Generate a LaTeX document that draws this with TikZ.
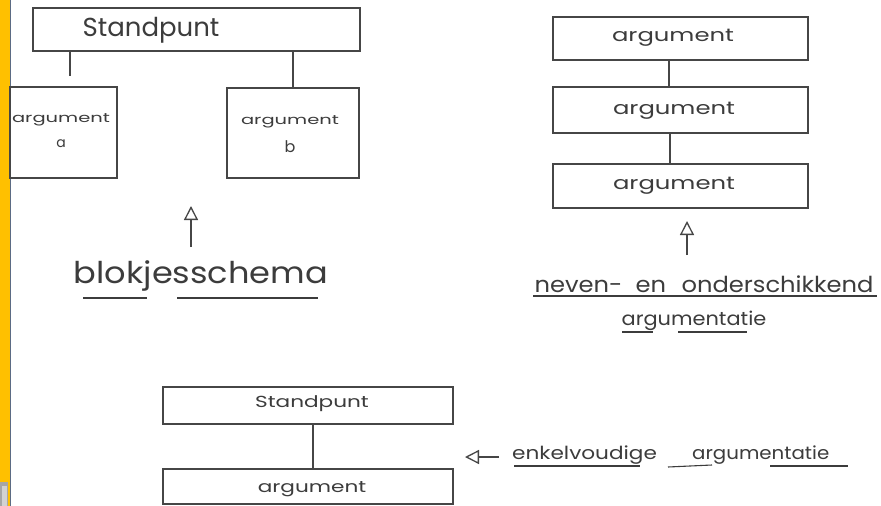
\documentclass[tikz,border=0pt]{standalone}
\usepackage{fontspec}
\setmainfont{Poppins}
\usepackage{graphicx}
\usetikzlibrary{arrows.meta}
\definecolor{pen}{HTML}{464646}
\definecolor{ink}{HTML}{3C3C3C}
\definecolor{strip}{HTML}{FFC000}
\definecolor{edge}{HTML}{5B6B84}
\newcommand\hw[3]{\scalebox{#2}[1]{\fontsize{#1}{#1}\selectfont #3}}
\tikzset{
  sketchbox/.style={draw=pen, line width=1.4pt, rectangle, inner sep=0pt},
  penline/.style={draw=pen, line width=1.3pt},
  inkline/.style={draw=ink, line width=1.1pt},
  hand/.style={text=ink, inner sep=0pt, align=center},
  uparrow/.style={draw=pen, line width=1.3pt, -{Triangle[open, length=14pt, width=14pt, line width=1.3pt]}},
}
\begin{document}
\begin{tikzpicture}[x=1pt, y=-1pt]
\useasboundingbox (0,0) rectangle (881,506);
\fill[white] (0,0) rectangle (881,506);
% left strip
\fill[strip] (0,0) rectangle (9.5,506);
\draw[edge, line width=1.2pt] (10.2,0) -- (10.2,506);
\fill[gray!70] (0,482) rectangle (8,506);
\fill[gray!35] (1.5,486) rectangle (6.5,506);

% ---------- blokjesschema ----------
\node[sketchbox, minimum width=327pt, minimum height=43pt] (sp) at (196.5,29.5) {};
\node[hand] (sptext) at (151,30) {\hw{26}{1.0}{Standpunt}};
\node[sketchbox, minimum width=107pt, minimum height=91pt] (a) at (63.5,132.5) {};
\node[hand] (atext) at (61,131) {\hw{13}{1.5}{argument}\\[13pt]\hw{14}{1}{a}};
\node[sketchbox, minimum width=132pt, minimum height=90pt] (b) at (293,133) {};
\node[hand] (btext) at (290,134) {\hw{13}{1.5}{argument}\\[11pt]\hw{16}{1}{b}};
\coordinate (tickA) at (70,76);
\coordinate (connB) at (293,0);
\draw[penline] (sp.south -| tickA) -- (tickA);
\draw[penline] (sp.south -| connB) -- (b.north -| connB);
\coordinate (arrA0) at (191,247);
\coordinate (arrA1) at (191,206);
\draw[uparrow] (arrA0) -- (arrA1);
\node[hand] (blok) at (201,276) {\hw{30}{1.12}{blokjesschema}};
\draw[inkline] (83,298) -- (147,298);
\draw[inkline] (177,298) -- (318,298);

% ---------- neven- en onderschikkend ----------
\node[sketchbox, minimum width=255pt, minimum height=43pt] (r1) at (680.5,38.5) {};
\node[sketchbox, minimum width=255pt, minimum height=46pt] (r2) at (680.5,110) {};
\node[sketchbox, minimum width=255pt, minimum height=44pt] (r3) at (680.5,186) {};
\node[hand] (r1text) at (673,38) {\hw{18}{1.35}{argument}};
\node[hand] (r2text) at (674,111) {\hw{18}{1.35}{argument}};
\node[hand] (r3text) at (674,186) {\hw{18}{1.35}{argument}};
\coordinate (c12) at (669,0);
\coordinate (c23) at (670,0);
\draw[penline] (r1.south -| c12) -- (r2.north -| c12);
\draw[penline] (r2.south -| c23) -- (r3.north -| c23);
\coordinate (arrR0) at (687,255);
\coordinate (arrR1) at (687,221);
\draw[uparrow] (arrR0) -- (arrR1);
\node[hand] (neven) at (704,284) {\hw{22}{1.1}{neven-\hspace{12pt}en\hspace{14pt}onderschikkend}};
\draw[inkline] (533,296) -- (877,296);
\node[hand] (argtie) at (694,321) {\hw{19}{1.1}{argumentatie}};
\draw[inkline] (622,332) -- (653,332);
\draw[inkline] (678,332) -- (747,332);

% ---------- enkelvoudige argumentatie ----------
\node[sketchbox, minimum width=290pt, minimum height=37pt] (s2) at (308,405.5) {};
\node[hand] (s2text) at (312,404) {\hw{16}{1.35}{Standpunt}};
\node[sketchbox, minimum width=290pt, minimum height=35pt] (g2) at (308,486.5) {};
\node[hand] (g2text) at (312,489) {\hw{16}{1.35}{argument}};
\coordinate (c2) at (313,0);
\draw[penline] (s2.south -| c2) -- (g2.north -| c2);
\coordinate (arrB0) at (499,457);
\coordinate (arrB1) at (465,457);
\draw[uparrow] (arrB0) -- (arrB1);
\node[hand, anchor=west] (enkel) at (512,455) {\hw{18}{1.2}{enkelvoudige}};
\node[hand, anchor=west] (argB) at (692,455) {\hw{18}{1.1}{argumentatie}};
\draw[inkline] (514,466) -- (640,466);
\draw[inkline] (668,467) -- (712,465);
\draw[inkline] (770,466) -- (848,466);
\end{tikzpicture}
\end{document}
